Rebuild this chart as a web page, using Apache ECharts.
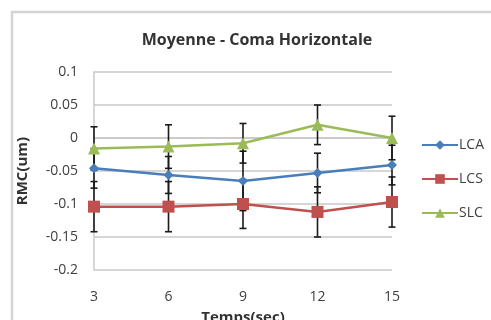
<!DOCTYPE html>
<html><head><meta charset="utf-8">
<script src="https://cdn.jsdelivr.net/npm/echarts@6/dist/echarts.min.js"></script>
<style>html,body{margin:0;padding:0;background:#fff}#c{width:491px;height:320px}</style>
</head><body><div id="c"></div>
<script>
const categories = ['3', '6', '9', '12', '15'];
const lca = [-0.046, -0.056, -0.065, -0.053, -0.041];
const lcs = [-0.104, -0.104, -0.100, -0.112, -0.097];
const slc = [-0.016, -0.013, -0.008, 0.020, 0.000];
const lcaErr = [0.030, 0.028, 0.045, 0.030, 0.030];
const lcsErr = [0.038, 0.038, 0.037, 0.038, 0.038];
const slcErr = [0.033, 0.033, 0.030, 0.030, 0.033];

function errData(vals, errs) {
  return vals.map((v, i) => [i, v - errs[i], v + errs[i]]);
}
function errSeries(vals, errs) {
  return {
    type: 'custom', silent: true, z: 1,
    data: errData(vals, errs),
    renderItem: function (params, api) {
      const x = api.value(0);
      const lo = api.coord([x, api.value(1)]);
      const hi = api.coord([x, api.value(2)]);
      const w = 3.5;
      const st = { stroke: '#1a1a1a', lineWidth: 1.6 };
      return {
        type: 'group', children: [
          { type: 'line', shape: { x1: lo[0], y1: lo[1], x2: hi[0], y2: hi[1] }, style: st },
          { type: 'line', shape: { x1: lo[0] - w, y1: lo[1], x2: lo[0] + w, y2: lo[1] }, style: st },
          { type: 'line', shape: { x1: hi[0] - w, y1: hi[1], x2: hi[0] + w, y2: hi[1] }, style: st }
        ]
      };
    }
  };
}

const chart = echarts.init(document.getElementById('c'), null, { renderer: 'canvas' });
const font = 'Open Sans';
chart.setOption({
  animation: false,
  textStyle: { fontFamily: font },
  title: {
    text: 'Moyenne - Coma Horizontale', left: 252, top: 27, textAlign: 'center',
    textStyle: { fontSize: 16, fontWeight: 'bold', color: '#333', fontFamily: font }
  },
  graphic: [{
    type: 'polyline', silent: true,
    shape: { points: [[12, 330], [12, 12], [500, 12]] },
    style: { stroke: '#d4d4d4', lineWidth: 2.5, fill: null }
  }],
  legend: {
    orient: 'vertical', left: 416, top: 133, itemGap: 20,
    itemWidth: 36, itemHeight: 12,
    textStyle: { fontSize: 14, color: '#404040', fontFamily: font, padding: [0, 0, 0, -4] },
    data: ['LCA', 'LCS', 'SLC']
  },
  grid: { left: 94, right: 99, top: 72, bottom: 50, outerBoundsMode: 'none', containLabel: false },
  xAxis: {
    type: 'category', data: categories, boundaryGap: false,
    name: 'Temps(sec)', nameLocation: 'middle', nameGap: 40,
    nameTextStyle: { fontSize: 15, fontWeight: 'bold', color: '#333' },
    axisLine: { lineStyle: { color: '#c8c8c8', width: 1.5 } },
    axisTick: { show: false },
    axisLabel: { fontSize: 14, color: '#404040', margin: 20 },
    splitLine: { show: false }
  },
  yAxis: {
    type: 'value', min: -0.2, max: 0.1, interval: 0.05,
    name: 'RMC(um)', nameLocation: 'middle', nameGap: 64,
    nameTextStyle: { fontSize: 15, fontWeight: 'bold', color: '#333' },
    axisLine: { show: true, lineStyle: { color: '#c8c8c8', width: 1.5 } },
    axisTick: { show: false },
    axisLabel: { fontSize: 14, color: '#404040', margin: 16 },
    splitLine: { lineStyle: { color: '#c8c8c8', width: 1.5 } }
  },
  series: [
    errSeries(lca, lcaErr),
    errSeries(lcs, lcsErr),
    errSeries(slc, slcErr),
    { name: 'LCA', type: 'line', data: lca, z: 3, symbol: 'diamond', symbolSize: 10,
      itemStyle: { color: '#4a7ebb' }, lineStyle: { width: 2.5, color: '#4a7ebb' } },
    { name: 'LCS', type: 'line', data: lcs, z: 3, symbol: 'rect', symbolSize: 12,
      itemStyle: { color: '#c0504d' }, lineStyle: { width: 2.5, color: '#c0504d' } },
    { name: 'SLC', type: 'line', data: slc, z: 3, symbol: 'triangle', symbolSize: 12,
      itemStyle: { color: '#9bbb59' }, lineStyle: { width: 2.5, color: '#9bbb59' } }
  ]
});
</script></body></html>
